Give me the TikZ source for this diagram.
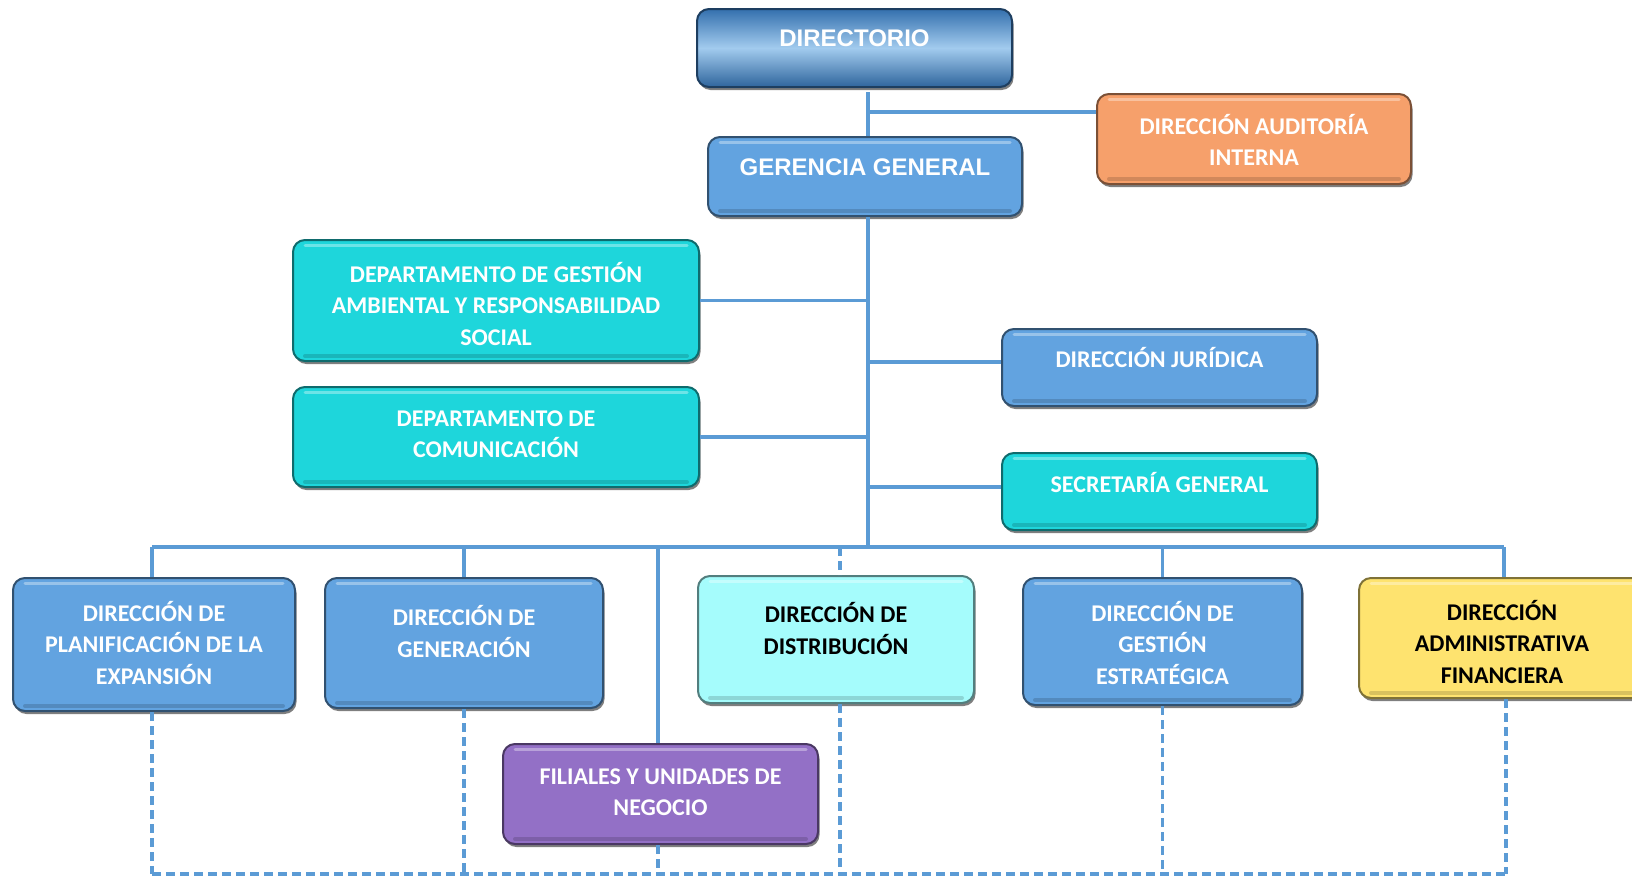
\documentclass[tikz,border=0pt]{standalone}
\usepackage{fontspec}
\setmainfont{Carlito}
\newfontfamily\arialf{Liberation Sans}
\usetikzlibrary{shadows}
\definecolor{linec}{HTML}{5B9BD5}
\definecolor{bluebox}{HTML}{62A3E0}
\definecolor{cyanbox}{HTML}{1ED6DB}
\definecolor{orangebox}{HTML}{F6A06B}
\definecolor{lcyanbox}{HTML}{A5FCFC}
\definecolor{purplebox}{HTML}{9370C6}
\definecolor{yellowbox}{HTML}{FEE36F}
\definecolor{dirblue}{HTML}{3470AE}
\definecolor{dirlight}{HTML}{A2CBEE}
\begin{document}
\begin{tikzpicture}[x=1pt,y=-1pt,
  orgbox/.style={rounded corners=12pt, fill=#1, draw=#1!50!black, line width=2pt,
    drop shadow={shadow xshift=1.5pt, shadow yshift=-3pt, fill=black, opacity=.5},
    inner sep=0pt,
    path picture={\draw[white, opacity=.35, line width=3pt, line cap=round]
      ([xshift=12pt,yshift=-5pt]path picture bounding box.north west) --
      ([xshift=-12pt,yshift=-5pt]path picture bounding box.north east);
      \draw[black, opacity=.15, line width=4pt, line cap=round]
      ([xshift=12pt,yshift=5pt]path picture bounding box.south west) --
      ([xshift=-12pt,yshift=5pt]path picture bounding box.south east);}},
  dirbox/.style={rounded corners=12pt, draw=dirblue!55!black, line width=2pt,
    top color=dirblue, bottom color=dirblue!90!black, middle color=dirlight,
    drop shadow={shadow xshift=1.5pt, shadow yshift=-3pt, fill=black, opacity=.5},
    inner sep=0pt},
  wtxt/.style={text=white, font=\fontsize{24}{31.5}\selectfont\bfseries, align=center, inner sep=0pt},
  ktxt/.style={text=black, font=\fontsize{24}{31.5}\selectfont\bfseries, align=center, inner sep=0pt},
  atxt/.style={text=white, font=\fontsize{24}{28}\selectfont\arialf\bfseries, align=center, inner sep=0pt},
  conn/.style={draw=linec, line width=3.5pt},
  dconn/.style={draw=linec, line width=3.5pt, dash pattern=on 9pt off 5pt},
]
\useasboundingbox (0,0) rectangle (1632,876);

% boxes
\node[dirbox, minimum width=315pt, minimum height=78pt] (dir) at (854.5,48) {};
\node[atxt] (dirT) at (854.5,38.5) {DIRECTORIO};
\node[orgbox=orangebox, minimum width=314pt, minimum height=90pt] (aud) at (1254,139) {};
\node[wtxt] (audT) at (1254,140) {DIRECCIÓN AUDITORÍA\\INTERNA};
\node[orgbox=bluebox, minimum width=314pt, minimum height=79pt] (ger) at (865,176.5) {};
\node[atxt] (gerT) at (865,167.6) {GERENCIA GENERAL};
\node[orgbox=cyanbox, minimum width=406pt, minimum height=121pt] (dga) at (496,300.5) {};
\node[wtxt] (dgaT) at (496,303.5) {DEPARTAMENTO DE GESTIÓN\\AMBIENTAL Y RESPONSABILIDAD\\SOCIAL};
\node[orgbox=bluebox, minimum width=315pt, minimum height=77pt] (jur) at (1159.5,367.5) {};
\node[wtxt] (jurT) at (1159.5,357.5) {DIRECCIÓN JURÍDICA};
\node[orgbox=cyanbox, minimum width=406pt, minimum height=100pt] (com) at (496,437) {};
\node[wtxt] (comT) at (496,434) {DEPARTAMENTO DE\\COMUNICACIÓN};
\node[orgbox=cyanbox, minimum width=315pt, minimum height=77pt] (sec) at (1159.5,491.5) {};
\node[wtxt] (secT) at (1159.5,482.5) {SECRETARÍA GENERAL};

\node[orgbox=bluebox, minimum width=282pt, minimum height=133pt] (plan) at (154,644.5) {};
\node[wtxt] (planT) at (154,642.5) {DIRECCIÓN DE\\PLANIFICACIÓN DE LA\\EXPANSIÓN};
\node[orgbox=bluebox, minimum width=278pt, minimum height=130pt] (gen) at (464,643) {};
\node[wtxt] (genT) at (464,631.5) {DIRECCIÓN DE\\GENERACIÓN};
\node[orgbox=purplebox, minimum width=315pt, minimum height=100pt] (fil) at (660.5,794) {};
\node[wtxt] (filT) at (660.5,792) {FILIALES Y UNIDADES DE\\NEGOCIO};
\node[orgbox=lcyanbox, minimum width=276pt, minimum height=127pt] (dist) at (836,639.5) {};
\node[ktxt] (distT) at (836,628.5) {DIRECCIÓN DE\\DISTRIBUCIÓN};
\node[orgbox=bluebox, minimum width=279pt, minimum height=127pt] (gest) at (1162.5,641.5) {};
\node[wtxt] (gestT) at (1162.5,642.5) {DIRECCIÓN DE\\GESTIÓN\\ESTRATÉGICA};
\node[orgbox=yellowbox, minimum width=286pt, minimum height=120pt] (adm) at (1502,638) {};
\node[ktxt] (admT) at (1502,641.5) {DIRECCIÓN\\ADMINISTRATIVA\\FINANCIERA};

% connector coordinates
\coordinate (tx) at (868,0);
\coordinate (ta) at (868,112);
\coordinate (tj) at (868,362);
\coordinate (ts) at (868,487);
\coordinate (bus) at (868,547);
\coordinate (bl) at (152,547);
\coordinate (br) at (1504,547);
\coordinate (bfil) at (658,547);
\coordinate (bdist) at (840,547);
\coordinate (dl) at (152,874);
\coordinate (dr) at (1506,874);

% solid connectors
\draw[conn] ([yshift=-4pt]dir.south -| tx) -- (ger.north -| tx);
\draw[conn] (ta) -- (ta -| aud.west);
\draw[conn] (ger.south -| tx) -- (bus);
\draw[conn] (dga.east) -- (dga.east -| tx);
\draw[conn] (tj) -- (tj -| jur.west);
\draw[conn] (com.east) -- (com.east -| tx);
\draw[conn] (ts) -- (ts -| sec.west);
\draw[conn] (bl) -- (br);
\draw[conn] (bl) -- (bl |- plan.north);
\draw[conn] (gen.north |- bl) -- (gen.north);
\draw[conn] (bfil) -- (bfil |- fil.north);
\draw[conn] (gest.north |- bl) -- (gest.north);
\draw[conn] (br) -- (br |- adm.north);

% dashed connectors
\draw[dconn] (bdist) -- (bdist |- dist.north);
\draw[dconn] (bl |- plan.south) -- (dl);
\draw[dconn] (gen.south) -- (gen.south |- dl);
\draw[dconn] (bfil |- fil.south) -- (bfil |- dl);
\draw[dconn] (bdist |- dist.south) -- (bdist |- dl);
\draw[dconn] (gest.south) -- (gest.south |- dl);
\draw[dconn] (dr |- adm.south) -- (dr);
\draw[dconn] (dl) -- (dr);
\end{tikzpicture}
\end{document}
